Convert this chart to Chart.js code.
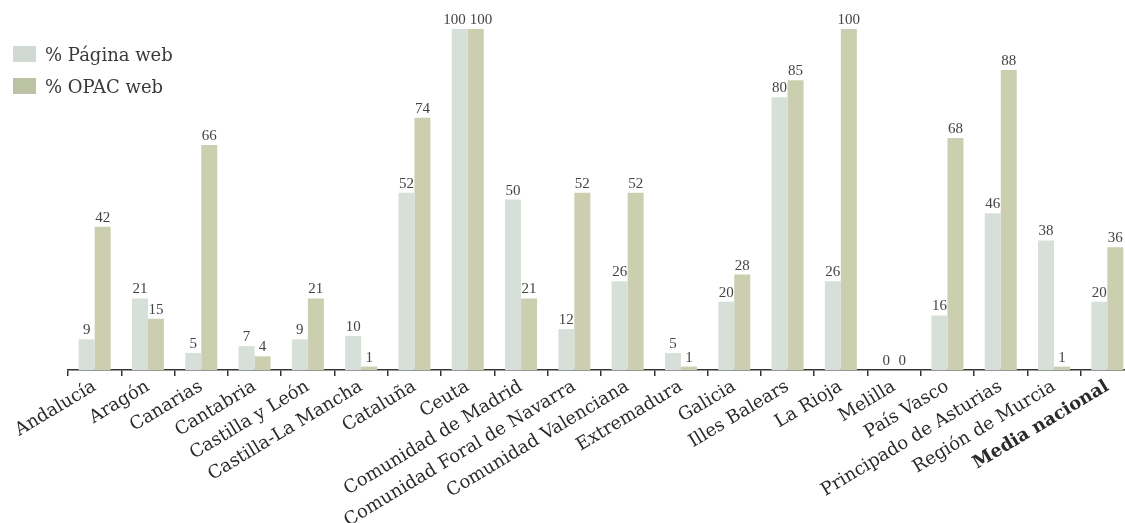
<!DOCTYPE html>
<html><head><meta charset="utf-8">
<script src="https://cdn.jsdelivr.net/npm/chart.js@4/dist/chart.umd.min.js"></script>
<style>
html,body{margin:0;padding:0;background:#fff;overflow:hidden;width:1125px;height:523px;}
#wrap{position:absolute;left:0;top:0;width:1135px;height:523px;}
#legend{position:absolute;left:13px;top:38px;font-family:"DejaVu Serif",serif;font-size:18px;color:#3a3a3a;}
.item{display:flex;align-items:center;height:32px;}
.box{width:23px;height:16px;margin-right:9px;}
</style></head>
<body>
<div id="wrap"><canvas id="c" width="1135" height="523"></canvas></div>
<div id="legend">
<div class="item"><span class="box" style="background:#d0d9d2"></span><span>% Página web</span></div>
<div class="item"><span class="box" style="background:#bcc2a4"></span><span>% OPAC web</span></div>
</div>
<script>
const categories = ["Andalucía","Aragón","Canarias","Cantabria","Castilla y León","Castilla-La Mancha","Cataluña","Ceuta","Comunidad de Madrid","Comunidad Foral de Navarra","Comunidad Valenciana","Extremadura","Galicia","Illes Balears","La Rioja","Melilla","País Vasco","Principado de Asturias","Región de Murcia","Media nacional"];
const paginaWeb = [9,21,5,7,9,10,52,100,50,12,26,5,20,80,26,0,16,46,38,20];
const opacWeb = [42,15,66,4,21,1,74,100,21,52,52,1,28,85,100,0,68,88,1,36];
const seriesNames = ["% Página web","% OPAC web"];

const valueLabels = {
  id:'valueLabels',
  afterDatasetsDraw(chart){
    const ctx = chart.ctx;
    ctx.save();
    ctx.font = '15px "Liberation Serif", serif';
    ctx.fillStyle = '#444';
    ctx.textAlign = 'center';
    ctx.textBaseline = 'alphabetic';
    const m0 = chart.getDatasetMeta(0).data, m1 = chart.getDatasetMeta(1).data;
    const d0 = chart.data.datasets[0].data, d1 = chart.data.datasets[1].data;
    m0.forEach((b0,i)=>{
      const b1 = m1[i];
      const t0 = String(d0[i]), t1 = String(d1[i]);
      let x0 = b0.x, x1 = b1.x;
      const y0 = b0.y - 5, y1 = b1.y - 5;
      if (Math.abs(y0 - y1) < 12) {
        const w0 = ctx.measureText(t0).width, w1 = ctx.measureText(t1).width;
        const overlap = (x0 + w0/2 + 4) - (x1 - w1/2);
        if (overlap > 0) { x0 -= overlap/2; x1 += overlap/2; }
      }
      ctx.fillText(t0, x0, y0);
      ctx.fillText(t1, x1, y1);
    });
    ctx.restore();
  }
};

new Chart(document.getElementById('c'), {
  type:'bar',
  data:{
    labels:categories,
    datasets:[
      {label:seriesNames[0], data:paginaWeb, backgroundColor:'#d7dfd9', categoryPercentage:0.6, barPercentage:1.0},
      {label:seriesNames[1], data:opacWeb, backgroundColor:'#ccceb0', categoryPercentage:0.6, barPercentage:1.0}
    ]
  },
  options:{
    responsive:false,
    animation:false,
    layout:{padding:{left:68,top:29,right:1,bottom:0}},
    plugins:{legend:{display:false},tooltip:{enabled:false}},
    scales:{
      y:{display:false,min:0,max:100},
      x:{
        offset:true,
        border:{display:true,color:'#333',width:1.5},
        grid:{display:true,drawOnChartArea:false,drawTicks:true,tickLength:6,color:'#333',lineWidth:1.5,offset:true},
        ticks:{
          minRotation:31,maxRotation:31,autoSkip:false,padding:0,
          color:'#2a2a2a',
          font:(c)=> c.index===19 ? {family:'"DejaVu Serif", serif',size:18,weight:'bold'} : {family:'"DejaVu Serif", serif',size:18}
        },
        afterFit(scale){ scale.height = 153; }
      }
    }
  },
  plugins:[valueLabels]
});
</script>
</body></html>
